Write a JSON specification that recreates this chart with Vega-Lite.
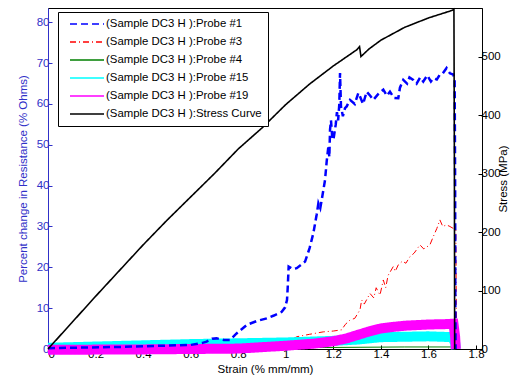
{
  "$schema": "https://vega.github.io/schema/vega-lite/v6.json",
  "width": 434,
  "height": 341,
  "autosize": {"type": "none"},
  "padding": {"left": 48, "top": 8, "right": 46, "bottom": 37},
  "background": "white",
  "config": {
    "font": "Arial",
    "view": {"stroke": "black", "strokeWidth": 1},
    "axis": {"labelFont": "Arial", "titleFont": "Arial", "labelFontSize": 11.5, "titleFontSize": 11.5, "titleFontWeight": "normal", "grid": false, "tickSize": -4, "labelColor": "black", "titleColor": "black", "domainColor": "black", "tickColor": "black"},
    "legend": {"orient": "none", "legendX": 10, "legendY": 4, "fillColor": "white", "strokeColor": "black", "padding": 6, "labelFontSize": 11.4, "labelFont": "Arial", "labelLimit": 400, "symbolType": "M0,0H6.8", "symbolSize": 100, "symbolStrokeWidth": 1.5, "rowPadding": 6, "labelOffset": 30}
  },
  "datasets": {
    "probes": [
      {"series": "(Sample DC3 H ):Probe #1", "x": 0, "y": 0.2},
      {"series": "(Sample DC3 H ):Probe #1", "x": 0.3, "y": 0.5},
      {"series": "(Sample DC3 H ):Probe #1", "x": 0.6, "y": 1.0},
      {"series": "(Sample DC3 H ):Probe #1", "x": 0.65, "y": 1.5},
      {"series": "(Sample DC3 H ):Probe #1", "x": 0.667, "y": 1.8},
      {"series": "(Sample DC3 H ):Probe #1", "x": 0.69, "y": 2.5},
      {"series": "(Sample DC3 H ):Probe #1", "x": 0.709, "y": 2.6},
      {"series": "(Sample DC3 H ):Probe #1", "x": 0.74, "y": 2.2},
      {"series": "(Sample DC3 H ):Probe #1", "x": 0.765, "y": 2.2},
      {"series": "(Sample DC3 H ):Probe #1", "x": 0.793, "y": 3.8},
      {"series": "(Sample DC3 H ):Probe #1", "x": 0.836, "y": 5.9},
      {"series": "(Sample DC3 H ):Probe #1", "x": 0.88, "y": 6.9},
      {"series": "(Sample DC3 H ):Probe #1", "x": 0.92, "y": 7.5},
      {"series": "(Sample DC3 H ):Probe #1", "x": 0.95, "y": 8.2},
      {"series": "(Sample DC3 H ):Probe #1", "x": 0.983, "y": 9.1},
      {"series": "(Sample DC3 H ):Probe #1", "x": 0.997, "y": 10.2},
      {"series": "(Sample DC3 H ):Probe #1", "x": 1.005, "y": 12},
      {"series": "(Sample DC3 H ):Probe #1", "x": 1.008, "y": 15},
      {"series": "(Sample DC3 H ):Probe #1", "x": 1.012, "y": 20.2},
      {"series": "(Sample DC3 H ):Probe #1", "x": 1.03, "y": 19.6},
      {"series": "(Sample DC3 H ):Probe #1", "x": 1.046, "y": 19.8},
      {"series": "(Sample DC3 H ):Probe #1", "x": 1.081, "y": 21.4},
      {"series": "(Sample DC3 H ):Probe #1", "x": 1.1, "y": 24.7},
      {"series": "(Sample DC3 H ):Probe #1", "x": 1.116, "y": 28.4},
      {"series": "(Sample DC3 H ):Probe #1", "x": 1.13, "y": 33},
      {"series": "(Sample DC3 H ):Probe #1", "x": 1.137, "y": 35.7},
      {"series": "(Sample DC3 H ):Probe #1", "x": 1.145, "y": 34.5},
      {"series": "(Sample DC3 H ):Probe #1", "x": 1.151, "y": 36.5},
      {"series": "(Sample DC3 H ):Probe #1", "x": 1.165, "y": 41.4},
      {"series": "(Sample DC3 H ):Probe #1", "x": 1.172, "y": 46},
      {"series": "(Sample DC3 H ):Probe #1", "x": 1.179, "y": 49.6},
      {"series": "(Sample DC3 H ):Probe #1", "x": 1.183, "y": 47},
      {"series": "(Sample DC3 H ):Probe #1", "x": 1.186, "y": 53.7},
      {"series": "(Sample DC3 H ):Probe #1", "x": 1.19, "y": 56},
      {"series": "(Sample DC3 H ):Probe #1", "x": 1.195, "y": 52},
      {"series": "(Sample DC3 H ):Probe #1", "x": 1.2, "y": 51.2},
      {"series": "(Sample DC3 H ):Probe #1", "x": 1.21, "y": 55},
      {"series": "(Sample DC3 H ):Probe #1", "x": 1.215, "y": 58},
      {"series": "(Sample DC3 H ):Probe #1", "x": 1.22, "y": 56},
      {"series": "(Sample DC3 H ):Probe #1", "x": 1.225, "y": 60},
      {"series": "(Sample DC3 H ):Probe #1", "x": 1.228, "y": 67.6},
      {"series": "(Sample DC3 H ):Probe #1", "x": 1.232, "y": 59.4},
      {"series": "(Sample DC3 H ):Probe #1", "x": 1.24, "y": 57},
      {"series": "(Sample DC3 H ):Probe #1", "x": 1.249, "y": 59},
      {"series": "(Sample DC3 H ):Probe #1", "x": 1.256, "y": 59.4},
      {"series": "(Sample DC3 H ):Probe #1", "x": 1.27, "y": 61},
      {"series": "(Sample DC3 H ):Probe #1", "x": 1.29, "y": 60},
      {"series": "(Sample DC3 H ):Probe #1", "x": 1.305, "y": 62.7},
      {"series": "(Sample DC3 H ):Probe #1", "x": 1.312, "y": 61.8},
      {"series": "(Sample DC3 H ):Probe #1", "x": 1.325, "y": 60},
      {"series": "(Sample DC3 H ):Probe #1", "x": 1.34, "y": 63},
      {"series": "(Sample DC3 H ):Probe #1", "x": 1.355, "y": 62},
      {"series": "(Sample DC3 H ):Probe #1", "x": 1.368, "y": 61},
      {"series": "(Sample DC3 H ):Probe #1", "x": 1.39, "y": 62.5},
      {"series": "(Sample DC3 H ):Probe #1", "x": 1.41, "y": 63.5},
      {"series": "(Sample DC3 H ):Probe #1", "x": 1.425, "y": 62},
      {"series": "(Sample DC3 H ):Probe #1", "x": 1.438, "y": 63},
      {"series": "(Sample DC3 H ):Probe #1", "x": 1.455, "y": 61.5},
      {"series": "(Sample DC3 H ):Probe #1", "x": 1.473, "y": 61.4},
      {"series": "(Sample DC3 H ):Probe #1", "x": 1.48, "y": 64},
      {"series": "(Sample DC3 H ):Probe #1", "x": 1.494, "y": 65.9},
      {"series": "(Sample DC3 H ):Probe #1", "x": 1.51, "y": 65},
      {"series": "(Sample DC3 H ):Probe #1", "x": 1.52, "y": 66.5},
      {"series": "(Sample DC3 H ):Probe #1", "x": 1.536, "y": 65.9},
      {"series": "(Sample DC3 H ):Probe #1", "x": 1.55, "y": 65},
      {"series": "(Sample DC3 H ):Probe #1", "x": 1.565, "y": 66.5},
      {"series": "(Sample DC3 H ):Probe #1", "x": 1.578, "y": 65.5},
      {"series": "(Sample DC3 H ):Probe #1", "x": 1.595, "y": 67},
      {"series": "(Sample DC3 H ):Probe #1", "x": 1.61, "y": 65.5},
      {"series": "(Sample DC3 H ):Probe #1", "x": 1.62, "y": 66.3},
      {"series": "(Sample DC3 H ):Probe #1", "x": 1.635, "y": 66},
      {"series": "(Sample DC3 H ):Probe #1", "x": 1.648, "y": 67.2},
      {"series": "(Sample DC3 H ):Probe #1", "x": 1.66, "y": 67.5},
      {"series": "(Sample DC3 H ):Probe #1", "x": 1.676, "y": 68.8},
      {"series": "(Sample DC3 H ):Probe #1", "x": 1.69, "y": 67.5},
      {"series": "(Sample DC3 H ):Probe #1", "x": 1.704, "y": 67.2},
      {"series": "(Sample DC3 H ):Probe #1", "x": 1.71, "y": 66},
      {"series": "(Sample DC3 H ):Probe #1", "x": 1.712, "y": 40},
      {"series": "(Sample DC3 H ):Probe #1", "x": 1.713, "y": 10},
      {"series": "(Sample DC3 H ):Probe #1", "x": 1.714, "y": 0},
      {"series": "(Sample DC3 H ):Probe #3", "x": 0, "y": 0.3},
      {"series": "(Sample DC3 H ):Probe #3", "x": 0.5, "y": 0.5},
      {"series": "(Sample DC3 H ):Probe #3", "x": 0.9, "y": 0.8},
      {"series": "(Sample DC3 H ):Probe #3", "x": 1.0, "y": 1.5},
      {"series": "(Sample DC3 H ):Probe #3", "x": 1.046, "y": 3.0},
      {"series": "(Sample DC3 H ):Probe #3", "x": 1.1, "y": 3.6},
      {"series": "(Sample DC3 H ):Probe #3", "x": 1.158, "y": 4.2},
      {"series": "(Sample DC3 H ):Probe #3", "x": 1.2, "y": 4.4},
      {"series": "(Sample DC3 H ):Probe #3", "x": 1.235, "y": 4.7},
      {"series": "(Sample DC3 H ):Probe #3", "x": 1.25, "y": 6},
      {"series": "(Sample DC3 H ):Probe #3", "x": 1.27, "y": 7.1},
      {"series": "(Sample DC3 H ):Probe #3", "x": 1.29, "y": 7.5},
      {"series": "(Sample DC3 H ):Probe #3", "x": 1.312, "y": 9.6},
      {"series": "(Sample DC3 H ):Probe #3", "x": 1.319, "y": 12},
      {"series": "(Sample DC3 H ):Probe #3", "x": 1.33, "y": 11},
      {"series": "(Sample DC3 H ):Probe #3", "x": 1.354, "y": 13.6},
      {"series": "(Sample DC3 H ):Probe #3", "x": 1.37, "y": 12.5},
      {"series": "(Sample DC3 H ):Probe #3", "x": 1.38, "y": 15},
      {"series": "(Sample DC3 H ):Probe #3", "x": 1.396, "y": 13.2},
      {"series": "(Sample DC3 H ):Probe #3", "x": 1.41, "y": 16.9},
      {"series": "(Sample DC3 H ):Probe #3", "x": 1.42, "y": 15},
      {"series": "(Sample DC3 H ):Probe #3", "x": 1.43, "y": 18},
      {"series": "(Sample DC3 H ):Probe #3", "x": 1.452, "y": 20.2},
      {"series": "(Sample DC3 H ):Probe #3", "x": 1.46, "y": 19},
      {"series": "(Sample DC3 H ):Probe #3", "x": 1.473, "y": 20.6},
      {"series": "(Sample DC3 H ):Probe #3", "x": 1.49, "y": 21.5},
      {"series": "(Sample DC3 H ):Probe #3", "x": 1.505, "y": 21},
      {"series": "(Sample DC3 H ):Probe #3", "x": 1.522, "y": 22.6},
      {"series": "(Sample DC3 H ):Probe #3", "x": 1.54, "y": 23.5},
      {"series": "(Sample DC3 H ):Probe #3", "x": 1.564, "y": 25.5},
      {"series": "(Sample DC3 H ):Probe #3", "x": 1.58, "y": 24.5},
      {"series": "(Sample DC3 H ):Probe #3", "x": 1.606, "y": 25.5},
      {"series": "(Sample DC3 H ):Probe #3", "x": 1.62, "y": 27.5},
      {"series": "(Sample DC3 H ):Probe #3", "x": 1.635, "y": 29.5},
      {"series": "(Sample DC3 H ):Probe #3", "x": 1.648, "y": 31.6},
      {"series": "(Sample DC3 H ):Probe #3", "x": 1.66, "y": 30},
      {"series": "(Sample DC3 H ):Probe #3", "x": 1.676, "y": 30.4},
      {"series": "(Sample DC3 H ):Probe #3", "x": 1.69, "y": 30},
      {"series": "(Sample DC3 H ):Probe #3", "x": 1.705, "y": 29.5},
      {"series": "(Sample DC3 H ):Probe #3", "x": 1.715, "y": 29.2},
      {"series": "(Sample DC3 H ):Probe #3", "x": 1.717, "y": 10},
      {"series": "(Sample DC3 H ):Probe #3", "x": 1.72, "y": 0},
      {"series": "(Sample DC3 H ):Probe #4", "x": 0, "y": 0},
      {"series": "(Sample DC3 H ):Probe #4", "x": 0.5, "y": 0.1},
      {"series": "(Sample DC3 H ):Probe #4", "x": 1.0, "y": 0.3},
      {"series": "(Sample DC3 H ):Probe #4", "x": 1.5, "y": 0.5},
      {"series": "(Sample DC3 H ):Probe #4", "x": 1.7, "y": 0.5},
      {"series": "(Sample DC3 H ):Probe #4", "x": 1.715, "y": 0},
      {"series": "(Sample DC3 H ):Probe #15", "x": 0, "y": 0.3},
      {"series": "(Sample DC3 H ):Probe #15", "x": 0.2, "y": 0.6},
      {"series": "(Sample DC3 H ):Probe #15", "x": 0.4, "y": 0.9},
      {"series": "(Sample DC3 H ):Probe #15", "x": 0.6, "y": 1.2},
      {"series": "(Sample DC3 H ):Probe #15", "x": 0.8, "y": 1.4},
      {"series": "(Sample DC3 H ):Probe #15", "x": 1.0, "y": 1.6},
      {"series": "(Sample DC3 H ):Probe #15", "x": 1.1, "y": 1.8},
      {"series": "(Sample DC3 H ):Probe #15", "x": 1.2, "y": 2.0},
      {"series": "(Sample DC3 H ):Probe #15", "x": 1.3, "y": 2.3},
      {"series": "(Sample DC3 H ):Probe #15", "x": 1.35, "y": 2.6},
      {"series": "(Sample DC3 H ):Probe #15", "x": 1.4, "y": 2.9},
      {"series": "(Sample DC3 H ):Probe #15", "x": 1.5, "y": 3.0},
      {"series": "(Sample DC3 H ):Probe #15", "x": 1.6, "y": 3.1},
      {"series": "(Sample DC3 H ):Probe #15", "x": 1.7, "y": 2.9},
      {"series": "(Sample DC3 H ):Probe #15", "x": 1.712, "y": 1.5},
      {"series": "(Sample DC3 H ):Probe #15", "x": 1.715, "y": 0},
      {"series": "(Sample DC3 H ):Probe #19", "x": 0, "y": -0.2},
      {"series": "(Sample DC3 H ):Probe #19", "x": 0.4, "y": -0.1},
      {"series": "(Sample DC3 H ):Probe #19", "x": 0.8, "y": 0.1},
      {"series": "(Sample DC3 H ):Probe #19", "x": 1.0, "y": 0.8},
      {"series": "(Sample DC3 H ):Probe #19", "x": 1.116, "y": 1.3},
      {"series": "(Sample DC3 H ):Probe #19", "x": 1.2, "y": 1.9},
      {"series": "(Sample DC3 H ):Probe #19", "x": 1.256, "y": 2.6},
      {"series": "(Sample DC3 H ):Probe #19", "x": 1.3, "y": 3.4},
      {"series": "(Sample DC3 H ):Probe #19", "x": 1.35, "y": 4.3},
      {"series": "(Sample DC3 H ):Probe #19", "x": 1.396, "y": 5.0},
      {"series": "(Sample DC3 H ):Probe #19", "x": 1.45, "y": 5.4},
      {"series": "(Sample DC3 H ):Probe #19", "x": 1.5, "y": 5.7},
      {"series": "(Sample DC3 H ):Probe #19", "x": 1.6, "y": 6.0},
      {"series": "(Sample DC3 H ):Probe #19", "x": 1.676, "y": 6.1},
      {"series": "(Sample DC3 H ):Probe #19", "x": 1.705, "y": 6.2},
      {"series": "(Sample DC3 H ):Probe #19", "x": 1.712, "y": 3},
      {"series": "(Sample DC3 H ):Probe #19", "x": 1.715, "y": 0}
    ],
    "stress": [
      {"series": "(Sample DC3 H ):Stress Curve", "x": 0, "y": 0},
      {"series": "(Sample DC3 H ):Stress Curve", "x": 0.1, "y": 45},
      {"series": "(Sample DC3 H ):Stress Curve", "x": 0.2, "y": 90},
      {"series": "(Sample DC3 H ):Stress Curve", "x": 0.3, "y": 134},
      {"series": "(Sample DC3 H ):Stress Curve", "x": 0.4, "y": 178},
      {"series": "(Sample DC3 H ):Stress Curve", "x": 0.5, "y": 220},
      {"series": "(Sample DC3 H ):Stress Curve", "x": 0.6, "y": 260},
      {"series": "(Sample DC3 H ):Stress Curve", "x": 0.7, "y": 300},
      {"series": "(Sample DC3 H ):Stress Curve", "x": 0.8, "y": 342},
      {"series": "(Sample DC3 H ):Stress Curve", "x": 0.9, "y": 378},
      {"series": "(Sample DC3 H ):Stress Curve", "x": 1.0, "y": 418},
      {"series": "(Sample DC3 H ):Stress Curve", "x": 1.1, "y": 453},
      {"series": "(Sample DC3 H ):Stress Curve", "x": 1.2, "y": 484},
      {"series": "(Sample DC3 H ):Stress Curve", "x": 1.3, "y": 512},
      {"series": "(Sample DC3 H ):Stress Curve", "x": 1.31, "y": 517},
      {"series": "(Sample DC3 H ):Stress Curve", "x": 1.316, "y": 500},
      {"series": "(Sample DC3 H ):Stress Curve", "x": 1.35, "y": 513},
      {"series": "(Sample DC3 H ):Stress Curve", "x": 1.4, "y": 528},
      {"series": "(Sample DC3 H ):Stress Curve", "x": 1.5, "y": 550},
      {"series": "(Sample DC3 H ):Stress Curve", "x": 1.6, "y": 566},
      {"series": "(Sample DC3 H ):Stress Curve", "x": 1.7, "y": 579},
      {"series": "(Sample DC3 H ):Stress Curve", "x": 1.707, "y": 581},
      {"series": "(Sample DC3 H ):Stress Curve", "x": 1.709, "y": 300},
      {"series": "(Sample DC3 H ):Stress Curve", "x": 1.71, "y": 0}
    ]
  },
  "layer": [
    {
      "data": {"name": "probes"},
      "encoding": {
        "x": {"field": "x", "type": "quantitative", "scale": {"domain": [0, 1.825], "nice": false},
              "axis": {"title": "Strain (% mm/mm)", "values": [0, 0.2, 0.4, 0.6, 0.8, 1, 1.2, 1.4, 1.6, 1.8], "format": "~g", "labelPadding": 3, "titlePadding": 4}},
        "y": {"field": "y", "type": "quantitative", "scale": {"domain": [0, 83.5], "nice": false},
              "axis": {"title": "Percent change in Resistance (% Ohms)", "orient": "left", "values": [0, 10, 20, 30, 40, 50, 60, 70, 80], "labelColor": "#3030c8", "titleColor": "#3030c8", "domainColor": "#3030c8", "tickColor": "#3030c8", "labelPadding": 3, "titlePadding": 8}},
        "color": {"field": "series", "type": "nominal",
                  "scale": {"domain": ["(Sample DC3 H ):Probe #1", "(Sample DC3 H ):Probe #3", "(Sample DC3 H ):Probe #4", "(Sample DC3 H ):Probe #15", "(Sample DC3 H ):Probe #19", "(Sample DC3 H ):Stress Curve"],
                            "range": ["#0000ff", "#ff0000", "#008000", "#00ffff", "#ff00ff", "#000000"]},
                  "legend": {"title": null}},
        "strokeDash": {"field": "series", "type": "nominal",
                  "scale": {"domain": ["(Sample DC3 H ):Probe #1", "(Sample DC3 H ):Probe #3", "(Sample DC3 H ):Probe #4", "(Sample DC3 H ):Probe #15", "(Sample DC3 H ):Probe #19", "(Sample DC3 H ):Stress Curve"],
                            "range": [[7, 4], [6, 3, 1, 3], [1, 0], [1, 0], [1, 0], [1, 0]]},
                  "legend": {"title": null}},
        "order": {"field": "x", "type": "quantitative"}
      },
      "layer": [
        {"transform": [{"filter": "datum.series == '(Sample DC3 H ):Probe #4'"}], "mark": {"type": "line", "clip": false, "strokeWidth": 1}},
        {"transform": [{"filter": "datum.series == '(Sample DC3 H ):Probe #3'"}], "mark": {"type": "line", "clip": false, "strokeWidth": 1}},
        {"transform": [{"filter": "datum.series == '(Sample DC3 H ):Probe #15'"}], "mark": {"type": "line", "clip": false, "strokeWidth": 10}},
        {"transform": [{"filter": "datum.series == '(Sample DC3 H ):Probe #19'"}], "mark": {"type": "line", "clip": false, "strokeWidth": 10}},
        {"transform": [{"filter": "datum.series == '(Sample DC3 H ):Probe #1'"}], "mark": {"type": "line", "clip": false, "strokeWidth": 2.5}}
      ]
    },
    {
      "data": {"name": "stress"},
      "mark": {"type": "line", "clip": false, "strokeWidth": 1.6},
      "encoding": {
        "x": {"field": "x", "type": "quantitative"},
        "y": {"field": "y", "type": "quantitative", "scale": {"domain": [0, 583], "nice": false},
              "axis": {"title": "Stress (MPa)", "orient": "right", "values": [0, 100, 200, 300, 400, 500], "titleAngle": 270, "labelPadding": 3, "titlePadding": 8}},
        "color": {"field": "series", "type": "nominal", "legend": {"title": null}},
        "strokeDash": {"field": "series", "type": "nominal", "legend": {"title": null}},
        "order": {"field": "x", "type": "quantitative"}
      }
    }
  ],
  "resolve": {"scale": {"y": "independent"}}
}
